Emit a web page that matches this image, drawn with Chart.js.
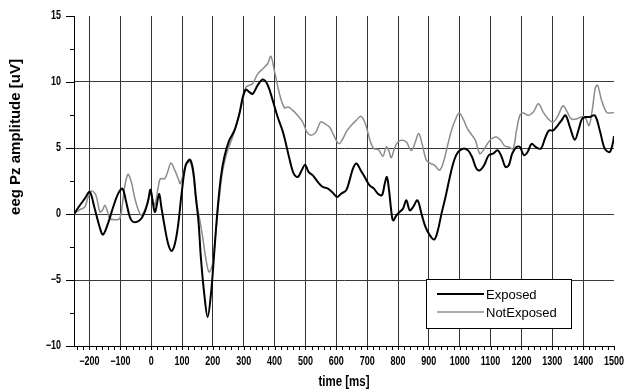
<!DOCTYPE html>
<html><head><meta charset="utf-8">
<script src="https://cdn.jsdelivr.net/npm/chart.js@4/dist/chart.umd.min.js"></script>
<style>html,body{margin:0;padding:0;background:#fff;}#wrap{width:624px;height:392px;}</style>
</head><body><div id="wrap"><canvas id="c" width="624" height="392"></canvas></div>
<script>
const seriesLabels = ['Exposed', 'NotExposed'];
const xTickValues = [-200,-100,0,100,200,300,400,500,600,700,800,900,1000,1100,1200,1300,1400,1500];
const yTickValues = [-10,-5,0,5,10,15];
const axisTitles = ['time [ms]', 'eeg Pz amplitude [uV]'];

const exposedTimes = [-250,-231,-215,-199,-183,-167,-156,-140,-123,-107,-93,-82,-69,-58,-37,-21,-10,-2,6,12,17,26,33,44,55,66,77,88,99,112,126,136,145,154,161,172,183,194,205,215,226,237,253,270,286,297,307,318,329,345,362,378,394,410,426,436,448,462,475,488,499,510,524,540,556,573,589,603,616,632,643,654,665,679,692,708,722,735,748,757,764,771,778,784,795,805,816,827,838,849,863,876,889,903,917,928,941,954,968,982,995,1011,1027,1040,1054,1065,1079,1094,1108,1123,1136,1148,1159,1170,1184,1195,1208,1220,1233,1246,1263,1276,1289,1303,1317,1330,1343,1357,1373,1386,1396,1408,1422,1438,1454,1470,1486,1497,1500];
const exposedValues = [0,0.66,1.16,1.67,0.41,-0.98,-1.56,-0.73,0.53,1.54,1.92,1.03,-0.23,-0.6,-0.48,0.15,1.0,1.84,0.78,0.15,0.53,1.54,0.53,-0.98,-2.25,-2.8,-2.25,-0.73,1.6,3.69,4.12,3.31,1.29,-0.73,-3.25,-6.03,-7.8,-6.03,-2.75,0.28,2.8,4.3,5.57,6.33,7.6,8.86,9.42,9.24,9.1,9.75,10.18,9.75,8.61,7.35,6.3,5.4,4.2,3.06,2.8,3.31,3.74,3.19,2.93,2.43,2.05,1.92,1.6,1.29,1.54,1.8,2.55,3.44,3.82,3.31,2.8,2.17,1.92,1.54,1.42,2.3,2.8,1.8,0.28,-0.48,-0.1,0.15,0.4,1.04,0.28,0.53,1.04,0.03,-0.98,-1.6,-1.93,-1.35,0.03,1.29,2.8,4.07,4.7,4.95,4.82,4.32,3.44,3.31,3.69,4.45,4.57,4.82,4.32,3.57,3.69,4.57,5.08,5.08,4.45,4.7,5.32,5.08,4.95,5.7,6.33,6.33,6.7,7.1,7.47,6.59,5.63,6.46,7.2,7.35,7.35,7.47,6.33,4.95,4.7,5.45,5.9];

const notExposedTimes = [-250,-231,-215,-204,-193,-179,-166,-158,-150,-141,-134,-118,-102,-93,-86,-75,-64,-54,-43,-32,-21,-10,-2,6,12,23,30,44,55,64,77,88,95,112,126,136,145,156,167,178,188,199,210,221,232,248,264,280,297,307,318,329,345,362,378,388,399,416,432,445,459,475,491,505,518,534,549,562,578,592,608,621,635,648,665,679,692,702,711,722,737,751,762,770,778,789,800,813,827,843,856,867,878,892,906,919,935,949,962,975,987,998,1011,1025,1040,1051,1065,1076,1090,1103,1119,1133,1146,1159,1173,1184,1195,1206,1222,1238,1255,1271,1287,1303,1319,1335,1349,1362,1379,1393,1406,1419,1430,1440,1447,1460,1476,1490,1500];
const notExposedValues = [0,0.33,0.53,1.29,1.75,1.42,0.15,0.28,0.66,0.15,-0.35,-0.43,-0.35,0.78,2.04,3.0,2.4,1.29,0.4,-0.1,0.28,1.0,1.54,1.0,0.66,2.04,2.67,2.67,3.3,3.86,3.3,2.67,2.3,3.7,3.94,3.06,1.04,-0.23,-1.75,-3.5,-4.4,-3.76,-1.25,1.29,3.3,4.82,5.83,7.1,8.6,9.6,9.75,9.87,10.6,11.0,11.4,11.95,10.9,9.1,8.05,8.1,7.85,7.47,6.97,6.2,5.96,6.2,6.97,6.84,6.59,5.96,5.33,5.7,6.33,6.7,7.1,7.4,6.97,6.2,5.45,4.95,4.87,4.37,5.08,4.82,4.27,5.0,5.45,5.58,5.45,4.82,5.45,6.1,5.32,4.07,3.82,3.69,3.31,4.07,5.32,6.46,7.2,7.65,7.2,6.46,5.96,5.58,4.57,4.82,5.32,5.7,5.83,5.58,5.15,5.08,4.95,6.33,7.47,7.65,7.47,7.7,8.35,7.7,7.2,6.97,7.47,8.2,7.7,7.2,7.2,7.35,7.35,6.7,7.97,9.6,9.75,8.6,7.7,7.65,7.7];

const toPoints = (t, v) => t.map((x, i) => ({x, y: v[i]}));
const fmt = v => (v < 0 ? '\u2212' + Math.abs(v) : String(v));

function narrowText(ctx, text, x, y, align, sx) {
  ctx.save();
  ctx.translate(x, y);
  ctx.scale(sx, 1);
  ctx.textAlign = align;
  ctx.fillText(text, 0, 0);
  ctx.restore();
}

const decor = {
  id: 'decor',
  afterDraw(chart) {
    const {ctx, chartArea: a} = chart;
    const x = chart.scales.x, y = chart.scales.y;
    ctx.save();
    ctx.strokeStyle = '#000'; ctx.lineWidth = 1;
    ctx.beginPath();
    for (let v = -240; v <= 1500; v += 20) {
      const px = Math.round(x.getPixelForValue(v)) + 0.5;
      ctx.moveTo(px, a.bottom); ctx.lineTo(px, a.bottom + 4);
    }
    for (let v = -10; v <= 15; v += 2.5) {
      const py = Math.round(y.getPixelForValue(v)) + 0.5;
      const len = (v % 5 === 0) ? 8 : 4;
      ctx.moveTo(a.left - len, py); ctx.lineTo(a.left, py);
    }
    ctx.stroke();
    // tick labels
    ctx.fillStyle = '#000';
    ctx.textBaseline = 'middle';
    ctx.font = "bold 12px 'Liberation Sans',Arial,sans-serif";
    x.ticks.forEach(t => narrowText(ctx, fmt(t.value), x.getPixelForValue(t.value), 362, 'center', 0.75));
    y.ticks.forEach(t => narrowText(ctx, fmt(t.value), 61, y.getPixelForValue(t.value), 'right', 0.75));
    // titles
    ctx.font = "bold 14px 'Liberation Sans',Arial,sans-serif";
    narrowText(ctx, axisTitles[0], (a.left + a.right) / 2, 382, 'center', 0.82);
    ctx.save();
    ctx.translate(16, 137);
    ctx.rotate(-Math.PI / 2);
    ctx.textAlign = 'center';
    ctx.font = "bold 15px 'Liberation Sans',Arial,sans-serif";
    ctx.fillText(axisTitles[1], 0, 0);
    ctx.restore();
    // legend
    const bx = 426.5, by = 279.5, bw = 145, bh = 49;
    ctx.fillStyle = '#fff';
    ctx.fillRect(bx, by, bw, bh);
    ctx.strokeStyle = '#000'; ctx.lineWidth = 1;
    ctx.strokeRect(bx, by, bw, bh);
    const rows = [294, 312];
    chart.data.datasets.forEach((d, i) => {
      ctx.strokeStyle = d.borderColor; ctx.lineWidth = d.borderWidth;
      ctx.beginPath(); ctx.moveTo(437, rows[i]); ctx.lineTo(484, rows[i]); ctx.stroke();
      ctx.fillStyle = '#000'; ctx.textAlign = 'left'; ctx.textBaseline = 'middle';
      ctx.font = "13px 'Liberation Sans',Arial,sans-serif";
      ctx.fillText(d.label, 486, rows[i] + 1);
    });
    ctx.restore();
  }
};

new Chart(document.getElementById('c'), {
  type: 'line',
  data: {
    datasets: [
      {label: seriesLabels[0], data: toPoints(exposedTimes, exposedValues), borderColor: '#000', borderWidth: 2, pointRadius: 0, tension: 0.35, fill: false},
      {label: seriesLabels[1], data: toPoints(notExposedTimes, notExposedValues), borderColor: '#8c8c8c', borderWidth: 1.5, pointRadius: 0, tension: 0.35, fill: false}
    ]
  },
  options: {
    responsive: false, animation: false, devicePixelRatio: 1,
    layout: {padding: {top: 16, right: 10, left: 0, bottom: 0}},
    plugins: {legend: {display: false}, tooltip: {enabled: false}},
    scales: {
      x: {
        type: 'linear', min: -250, max: 1500,
        afterBuildTicks: s => { s.ticks = xTickValues.map(v => ({value: v})); },
        afterFit: s => { s.height = 46; s.paddingLeft = 0; s.paddingRight = 0; },
        grid: {color: c => (c.tick && c.tick.value === 1500) ? 'rgba(0,0,0,0)' : '#333', drawTicks: false, lineWidth: 1},
        border: {display: true, color: '#000', width: 1},
        ticks: {display: false}
      },
      y: {
        min: -10, max: 15,
        afterBuildTicks: s => { s.ticks = yTickValues.map(v => ({value: v})); },
        afterFit: s => { s.width = 74; s.paddingTop = 0; s.paddingBottom = 0; },
        grid: {color: c => (c.tick && (c.tick.value === 15 || c.tick.value === -10)) ? 'rgba(0,0,0,0)' : '#3a3a3a', drawTicks: false, lineWidth: 1},
        border: {display: true, color: '#000', width: 1},
        ticks: {display: false}
      }
    }
  },
  plugins: [decor]
});
</script></body></html>
